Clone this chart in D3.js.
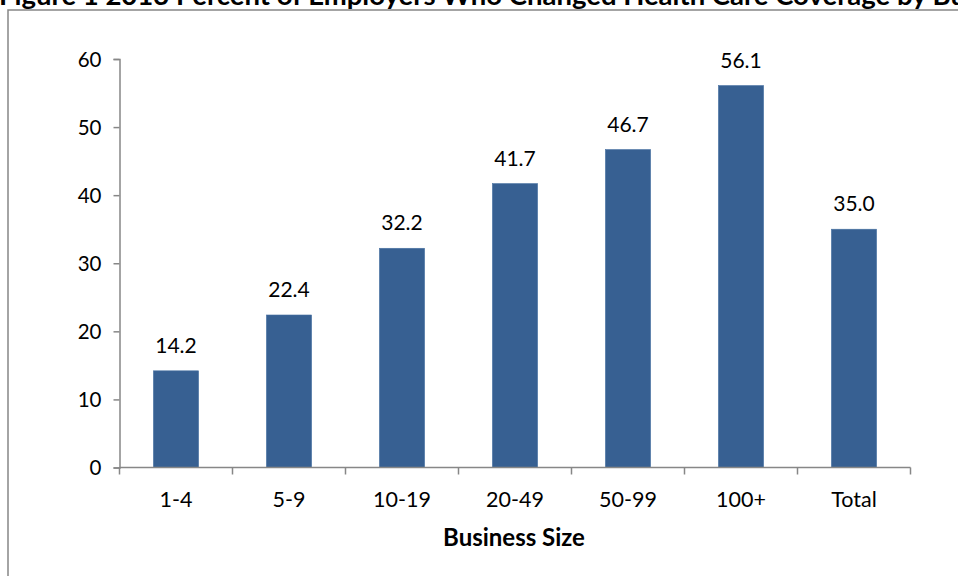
<!DOCTYPE html>
<html><head><meta charset="utf-8">
<script src="https://cdn.jsdelivr.net/npm/d3@7"></script>
<style>
html,body{margin:0;padding:0;background:#fff;}
svg{display:block;}
text{font-family:Lato,"Open Sans",sans-serif;fill:#000;}
</style></head>
<body><svg id="chart" width="958" height="576"></svg>
<script>
const categories = ["1-4","5-9","10-19","20-49","50-99","100+","Total"];
const values = [14.2,22.4,32.2,41.7,46.7,56.1,35.0];
const yTicks = [0,10,20,30,40,50,60];
const titleText = "Figure 1 2013 Percent of Employers Who Changed Health Care Coverage by Business Size";
const xTitle = "Business Size";

const svg = d3.select("#chart");
const plot = {left:119.5, right:910.5, top:59, bottom:467.5};

// title (clipped at top edge, as in the source image)
svg.append("text")
  .attr("x", -1).attr("y", 5)
  .attr("font-size", 27.5).attr("font-weight", "bold")
  .text(titleText);

// outer frame
svg.append("rect")
  .attr("x", 8).attr("y", 10)
  .attr("width", 1000).attr("height", 700)
  .attr("fill", "none").attr("stroke", "#878787").attr("stroke-width", 1.5);

const x = d3.scaleBand().domain(categories).range([plot.left, plot.right]).paddingInner(0.6).paddingOuter(0.3);
const xOuter = d3.scaleBand().domain(categories).range([plot.left, plot.right]);
const y = d3.scaleLinear().domain([0,60]).range([plot.bottom, plot.top]);

// y axis
const yAxis = svg.append("g").attr("transform", `translate(${plot.left},0)`)
  .call(d3.axisLeft(y).tickValues(yTicks).tickSize(6).tickPadding(12).tickFormat(d3.format("d")));
yAxis.select(".domain").attr("stroke", "#878787").attr("stroke-width", 1.5);
yAxis.selectAll(".tick line").attr("stroke", "#878787").attr("stroke-width", 1.5);
yAxis.selectAll(".tick text").attr("font-size", 20.5).attr("font-family", "Lato").attr("fill", "#000").attr("dy", "0.35em");

// bars
svg.append("g").selectAll("rect").data(values).join("rect")
  .attr("x", (d,i) => x(categories[i]))
  .attr("width", x.bandwidth())
  .attr("y", d => y(d))
  .attr("height", d => y(0) - y(d))
  .attr("fill", "#376092")
  .attr("stroke", "#4a72a3").attr("stroke-width", 0.6);

// x axis
const xAxis = svg.append("g").attr("transform", `translate(0,${plot.bottom})`);
xAxis.append("line").attr("x1", plot.left).attr("x2", plot.right).attr("y1", 0).attr("y2", 0)
  .attr("stroke", "#878787").attr("stroke-width", 1.5);
const boundaries = categories.map(c => xOuter(c)).concat([plot.right]);
xAxis.selectAll("line.tk").data(boundaries).join("line").attr("class","tk")
  .attr("x1", d => d).attr("x2", d => d).attr("y1", 0).attr("y2", 7)
  .attr("stroke", "#878787").attr("stroke-width", 1.5);
xAxis.selectAll("text").data(categories).join("text")
  .attr("x", d => xOuter(d) + xOuter.bandwidth()/2)
  .attr("y", 39)
  .attr("text-anchor", "middle").attr("font-size", 21.5)
  .text(d => d);

// data labels
svg.append("g").selectAll("text").data(values).join("text")
  .attr("x", (d,i) => x(categories[i]) + x.bandwidth()/2)
  .attr("y", d => y(d) - 18)
  .attr("text-anchor", "middle").attr("font-size", 21)
  .text(d => d.toFixed(1));

// x title
svg.append("text")
  .attr("x", 514).attr("y", 546)
  .attr("text-anchor", "middle").attr("font-size", 24).attr("font-weight", "bold")
  .text(xTitle);
</script></body></html>
